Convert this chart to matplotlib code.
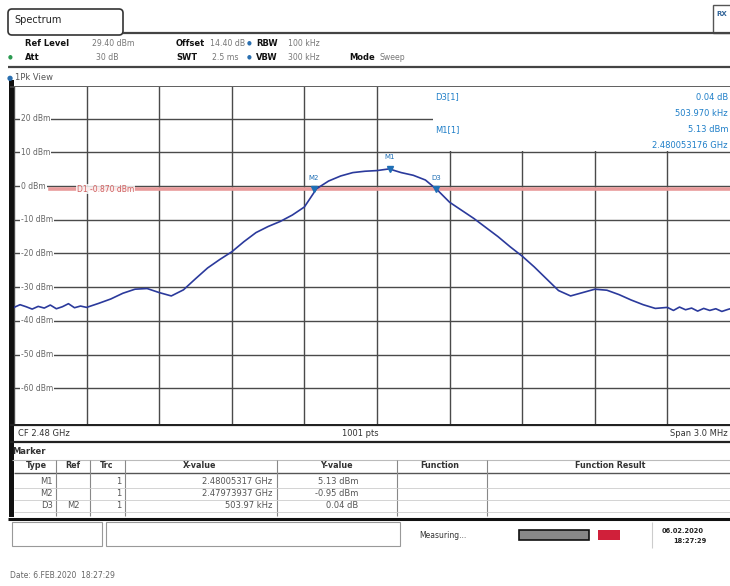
import numpy as np
import matplotlib
matplotlib.use("Agg")
import matplotlib.pyplot as plt
from matplotlib.patches import Rectangle, FancyBboxPatch

plt.rcParams['font.family'] = ['DejaVu Sans']

# trace: offset from centre frequency (MHz) and level (dBm)
freq_off = [-1.50, -1.475, -1.45, -1.425, -1.40, -1.375, -1.35, -1.325, -1.30, -1.275,
            -1.25, -1.225, -1.20, -1.15, -1.10, -1.05,
            -1.00, -0.95, -0.90, -0.85, -0.80, -0.75, -0.70, -0.65, -0.60, -0.55,
            -0.50, -0.45, -0.40, -0.35, -0.30, -0.25, -0.20, -0.15, -0.10, -0.05,
            0.00, 0.05, 0.10, 0.15, 0.20, 0.25, 0.30, 0.35, 0.40, 0.45,
            0.50, 0.55, 0.60, 0.65, 0.70, 0.75, 0.80, 0.85, 0.90, 0.95,
            1.00, 1.05, 1.10, 1.15, 1.20, 1.225, 1.25, 1.275, 1.30, 1.325,
            1.35, 1.375, 1.40, 1.425, 1.45, 1.475, 1.50]
level_dbm = [-36.0, -35.2, -35.8, -36.5, -35.7, -36.2, -35.3, -36.4, -35.8, -34.9,
             -36.1, -35.6, -36.0, -34.8, -33.5, -31.8,
             -30.6, -30.4, -31.6, -32.6, -30.8, -27.5, -24.3, -21.8, -19.5, -16.5,
             -13.8, -12.0, -10.5, -8.6, -6.2, -0.8, 1.5, 3.0, 4.0, 4.4,
             4.6, 5.1, 4.0, 3.2, 1.8, -1.2, -4.8, -7.2, -9.6, -12.3,
             -15.0, -18.0, -20.8, -24.0, -27.5, -31.0, -32.6, -31.6, -30.6, -30.9,
             -32.2, -33.8, -35.2, -36.3, -36.0, -36.9, -35.9, -36.7, -36.2, -37.1,
             -36.3, -36.9, -36.4, -37.2, -36.6, -36.1, -36.8]

cf_ghz = 2.48
span_mhz = 3.0
ref_level = 29.4
grid_levels = [20, 10, 0, -10, -20, -30, -40, -50, -60]
grid_labels = ["20 dBm", "10 dBm", "0 dBm", "-10 dBm", "-20 dBm", "-30 dBm",
               "-40 dBm", "-50 dBm", "-60 dBm"]
display_line = -0.87

marker_names = ["M1", "M2", "D3"]
marker_freq = [2.48005317, 2.47973937, 2.47973937 + 0.00050397]
marker_level = [5.13, -0.95, -0.91]

table_rows = [["M1", "", "1", "2.48005317 GHz", "5.13 dBm"],
              ["M2", "", "1", "2.47973937 GHz", "-0.95 dBm"],
              ["D3", "M2", "1", "503.97 kHz", "0.04 dB"]]

W, H = 730, 586
fig = plt.figure(figsize=(W / 100, H / 100), dpi=100)
fig.patch.set_facecolor('white')

# background axes in pixel coordinates for the instrument chrome
bg = fig.add_axes([0, 0, 1, 1], zorder=0)
bg.set_xlim(0, W)
bg.set_ylim(H, 0)
bg.axis('off')

def hline(y, x0, x1, c='#444444', lw=1.0):
    bg.plot([x0, x1], [y, y], color=c, lw=lw, solid_capstyle='butt')

def vline(x, y0, y1, c='#444444', lw=1.0):
    bg.plot([x, x], [y0, y1], color=c, lw=lw, solid_capstyle='butt')

def txt(x, y, s, ha='left', c='#333333', fs=6, bold=False):
    bg.text(x, y, s, ha=ha, va='center', color=c, fontsize=fs,
            fontweight='bold' if bold else 'normal')

# tab
tab = FancyBboxPatch((8, 9), 115, 26, boxstyle="round,pad=0,rounding_size=4",
                     fc='white', ec='#333333', lw=1.2)
bg.add_patch(tab)
txt(14, 20, "Spectrum", fs=7, c='#222222')
hline(33, 123, 740, lw=1.6)
bg.add_patch(Rectangle((713, 5), 20, 28, fc='white', ec='#555555', lw=1))
txt(716, 14, "RX", fs=5, c='#336699', bold=True)

# setting rows
txt(25, 43, "Ref Level", bold=True, c='#111111')
txt(92, 43, "29.40 dBm", c='#777777', fs=5.6)
txt(176, 43, "Offset", bold=True, c='#111111')
txt(210, 43, "14.40 dB", c='#777777', fs=5.6)
txt(247, 43, "\u25cf", c='#2a6fb0', fs=4)
txt(256, 43, "RBW", bold=True, c='#111111')
txt(288, 43, "100 kHz", c='#777777', fs=5.6)
txt(8, 57, "\u25cf", c='#2a9a50', fs=4)
txt(25, 57, "Att", bold=True, c='#111111')
txt(118, 57, "30 dB", ha='right', c='#777777', fs=5.6)
txt(176, 57, "SWT", bold=True, c='#111111')
txt(238, 57, "2.5 ms", ha='right', c='#777777', fs=5.6)
txt(247, 57, "\u25cf", c='#2a6fb0', fs=4)
txt(256, 57, "VBW", bold=True, c='#111111')
txt(288, 57, "300 kHz", c='#777777', fs=5.6)
txt(349, 57, "Mode", bold=True, c='#111111')
txt(380, 57, "Sweep", c='#777777', fs=5.6)
hline(67, 8, 740, lw=1.6)
txt(7, 78, "\u25cf", c='#2a6fb0', fs=5)
txt(15, 78, "1Pk View", c='#555555')
hline(87, 10, 740, lw=1.2)

# left black border
bg.add_patch(Rectangle((9, 80), 5, 437, fc='#111111', ec='none'))

# main spectrum axes
x0, x1, y0, y1 = 14, 740, 87, 424
ax = fig.add_axes([x0 / W, 1 - y1 / H, (x1 - x0) / W, (y1 - y0) / H], zorder=1)
f_lo = cf_ghz - span_mhz / 2000
f_hi = cf_ghz + span_mhz / 2000
ax.set_xlim(f_lo, f_hi)
ax.set_ylim(ref_level - 100, ref_level)
ax.set_xticks(np.linspace(f_lo, f_hi, 11))
ax.set_yticks(grid_levels)
ax.grid(True, color='#4a4a4a', lw=1.0)
ax.tick_params(left=False, bottom=False, labelleft=False, labelbottom=False)
for sp in ax.spines.values():
    sp.set_visible(False)

# display line
ax.axhline(display_line, xmin=0.05, color='#e89a9a', lw=2.6, zorder=2)
ax.text(f_lo + 0.00026, display_line, "D1 -0.870 dBm", color='#d06060', fontsize=5.5,
        va='center', ha='left', zorder=3,
        bbox=dict(fc='white', ec='none', pad=0.5, alpha=0.8))

# grid labels
for lv, lb in zip(grid_levels, grid_labels):
    ax.text(f_lo + 0.00003, lv, lb, color='#666666', fontsize=5.5, va='center',
            ha='left', zorder=4, bbox=dict(fc='white', ec='none', pad=0.6))

# trace
trace_f = [cf_ghz + f / 1000 for f in freq_off]
ax.plot(trace_f, level_dbm, color='#2b3a9c', lw=1.2, zorder=5)

# markers
for nm, mf, ml in zip(marker_names, marker_freq, marker_level):
    ax.plot(mf, ml, marker='v', color='#1f6fb5', ms=4, zorder=6)
    ax.text(mf, ml + 2.5, nm, color='#1f6fb5', fontsize=5, ha='center',
            va='bottom', zorder=6)

# marker info box (top right)
ax.add_patch(Rectangle((0.577, 0.81), 0.5, 0.2, transform=ax.transAxes,
                       fc='white', ec='none', zorder=3))
bg_c = '#1f7fc8'
ov = fig.add_axes([0, 0, 1, 1], zorder=2)
ov.set_xlim(0, W)
ov.set_ylim(H, 0)
ov.axis('off')
ov.patch.set_alpha(0)
for y, l, r in [(97, "D3[1]", "0.04 dB"), (113, "", "503.970 kHz"),
                (130, "M1[1]", "5.13 dBm"), (146, "", "2.480053176 GHz")]:
    if l:
        ov.text(435, y, l, color=bg_c, fontsize=6, va='center')
    ov.text(728, y, r, color=bg_c, fontsize=6, va='center', ha='right')

# frequency bar
hline(425, 10, 740, c='#222222', lw=1.6)
txt(18, 433, "CF 2.48 GHz", c='#333333')
txt(360, 433, "1001 pts", ha='center', c='#333333')
txt(728, 433, "Span 3.0 MHz", ha='right', c='#333333')
hline(442, 10, 740, c='#222222', lw=1.6)

# marker table
txt(12, 452, "Marker", bold=True, c='#333333')
hline(460, 12, 740, c='#bbbbbb', lw=0.8)
heads = [(36, "Type"), (73, "Ref"), (107, "Trc"), (200, "X-value"),
         (336, "Y-value"), (440, "Function"), (610, "Function Result")]
for hx, hs in heads:
    txt(hx, 466, hs, ha='center', c='#333333', bold=True, fs=5.8)
hline(473, 14, 740, c='#555555', lw=1.0)
for cx in [56, 90, 125, 277, 397, 487]:
    vline(cx, 460, 516, c='#888888', lw=0.8)
row_y = [482, 494, 506]
for ry, row in zip(row_y, table_rows):
    txt(53, ry, row[0], ha='right', c='#555555')
    txt(80, ry, row[1], ha='right', c='#555555')
    txt(121, ry, row[2], ha='right', c='#555555')
    txt(272, ry, row[3], ha='right', c='#555555')
    txt(358, ry, row[4], ha='right', c='#555555')
    hline(ry + 6, 14, 740, c='#cccccc', lw=0.6)

# status bar
hline(519, 8, 740, c='#111111', lw=2.2)
bg.add_patch(Rectangle((12, 522), 90, 24, fc='white', ec='#999999', lw=0.8))
bg.add_patch(Rectangle((106, 522), 294, 24, fc='white', ec='#999999', lw=0.8))
txt(443, 535, "Measuring...", ha='center', c='#333333', fs=5.5)
bg.add_patch(Rectangle((519, 530), 70, 10, fc='#888888', ec='#111111', lw=1.2))
bg.add_patch(Rectangle((598, 530), 22, 10, fc='#d0203a', ec='none'))
txt(683, 531, "06.02.2020", ha='center', c='#222222', fs=4.8, bold=True)
txt(690, 541, "18:27:29", ha='center', c='#222222', fs=4.8, bold=True)
vline(652, 522, 548, c='#cccccc', lw=0.8)

txt(10, 576, "Date: 6.FEB.2020  18:27:29", c='#666666', fs=5.5)

fig.savefig("out.png", dpi=100)
